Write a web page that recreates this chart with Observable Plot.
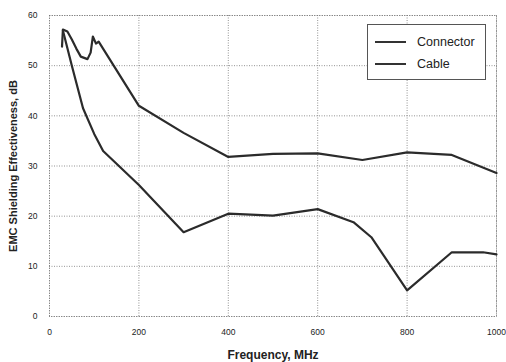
<!DOCTYPE html>
<html>
<head>
<meta charset="utf-8">
<script src="https://cdn.jsdelivr.net/npm/d3@7"></script>
<script src="https://cdn.jsdelivr.net/npm/@observablehq/plot@0.6"></script>
<style>
  html, body { margin: 0; padding: 0; background: #fff; }
  #wrap { position: relative; width: 506px; height: 362px; }
  #legend {
    position: absolute; left: 367px; top: 24px; width: 119px; height: 56px;
    border: 1px solid #555; background: #fff; box-sizing: border-box;
    font-family: "Liberation Sans", Arial, sans-serif; font-size: 12.5px; color: #222;
  }
  #legend .row { position: absolute; left: 7px; height: 14px; display: flex; align-items: center; }
  #legend .sw { width: 31px; height: 0; border-top: 2px solid #333; margin-right: 11px; }
</style>
</head>
<body>
<div id="wrap"></div>
<script>
const seriesNames = ["Connector", "Cable"];
const connectorFreq = [28, 30, 40, 50, 60, 70, 85, 92, 97, 104, 110, 200, 300, 400, 500, 600, 700, 800, 900, 1000];
const connectorDb   = [53.8, 57.2, 56.8, 55.2, 53.4, 51.8, 51.3, 52.6, 55.8, 54.4, 54.8, 42, 36.6, 31.8, 32.4, 32.5, 31.2, 32.7, 32.2, 28.6];
const cableFreq = [30, 50, 75, 100, 120, 200, 300, 400, 500, 600, 680, 720, 800, 900, 970, 1000];
const cableDb   = [57, 50, 41.5, 36.4, 33, 26.2, 16.8, 20.5, 20.1, 21.4, 18.8, 15.8, 5.2, 12.8, 12.8, 12.4];
const xTicks = [0, 200, 400, 600, 800, 1000];
const yTicks = [0, 10, 20, 30, 40, 50, 60];

const data = [
  ...connectorFreq.map((f, i) => ({series: seriesNames[0], f, db: connectorDb[i]})),
  ...cableFreq.map((f, i) => ({series: seriesNames[1], f, db: cableDb[i]}))
];

const chart = Plot.plot({
  width: 506, height: 362,
  marginLeft: 49, marginRight: 10, marginTop: 15, marginBottom: 46,
  style: {fontFamily: "'Liberation Sans', Arial, sans-serif", fontSize: "9px", color: "#222", background: "#fff"},
  x: {domain: [0, 1000]},
  y: {domain: [0, 60]},
  marks: [
    Plot.gridX(xTicks, {stroke: "#777", strokeOpacity: 1, strokeDasharray: "1,1.5", strokeWidth: 0.8}),
    Plot.gridY(yTicks, {stroke: "#777", strokeOpacity: 1, strokeDasharray: "1,1.5", strokeWidth: 0.8}),
    Plot.frame({stroke: "#777", strokeDasharray: "1,1.5", strokeWidth: 0.8}),
    Plot.axisX(xTicks, {tickSize: 0, tickPadding: 12, tickFormat: d => String(d), label: "Frequency, MHz", labelAnchor: "center", labelArrow: "none", labelOffset: 42, fontSize: 8.5}),
    Plot.axisY(yTicks, {tickSize: 0, tickPadding: 12, label: "EMC Shielding Effectiveness, dB", labelAnchor: "center", labelArrow: "none", labelOffset: 40, fontSize: 8.5}),
    Plot.line(data, {x: "f", y: "db", z: "series", stroke: "#2b2b2b", strokeWidth: 2.2, strokeLinejoin: "round"})
  ]
});
const wrap = document.getElementById("wrap");
wrap.appendChild(chart);
chart.querySelectorAll('[aria-label="x-axis label"] text').forEach(t => { t.style.fontSize = "12px"; t.style.fontWeight = "bold"; });
chart.querySelectorAll('[aria-label="y-axis label"] text').forEach(t => { t.style.fontSize = "11px"; t.style.fontWeight = "bold"; });

const legend = document.createElement("div");
legend.id = "legend";
seriesNames.forEach((name, i) => {
  const row = document.createElement("div");
  row.className = "row";
  row.style.top = (i === 0 ? 10 : 32) + "px";
  row.innerHTML = '<span class="sw"></span><span>' + name + '</span>';
  legend.appendChild(row);
});
wrap.appendChild(legend);
</script>
</body>
</html>
